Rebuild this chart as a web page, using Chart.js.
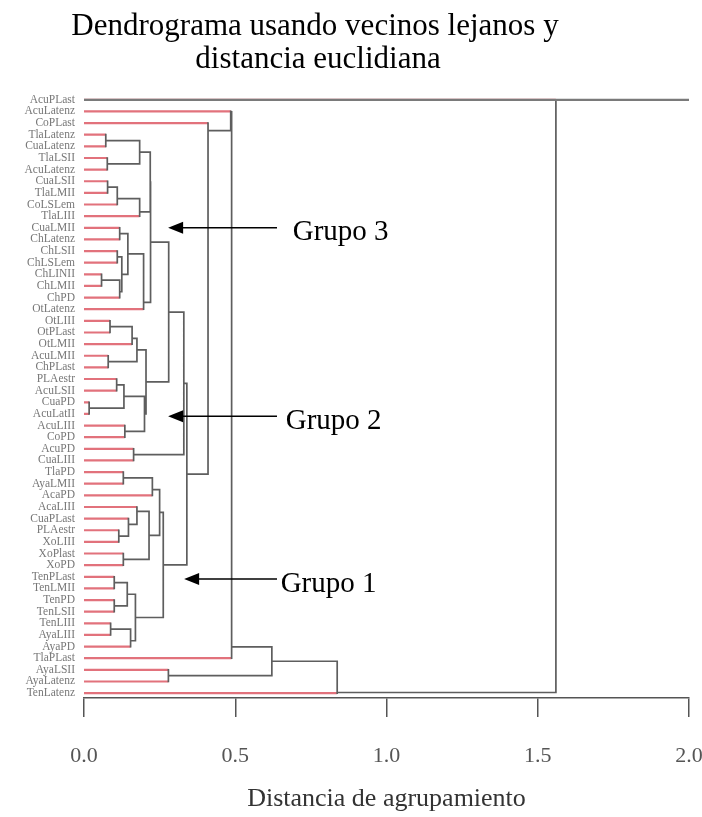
<!DOCTYPE html>
<html><head><meta charset="utf-8">
<script src="https://cdn.jsdelivr.net/npm/chart.js@4.4.0/dist/chart.umd.min.js"></script>
<style>html,body{margin:0;padding:0;background:#fff;} #wrap{width:702px;height:817px;}</style>
</head><body><div id="wrap"><canvas id="c" width="702" height="817"></canvas></div>
<script>
// ---- data ----
const leafLabels = ['AcuPLast','AcuLatenz','CoPLast','TlaLatenz','CuaLatenz','TlaLSII','AcuLatenz','CuaLSII','TlaLMII','CoLSLem',
  'TlaLIII','CuaLMII','ChLatenz','ChLSII','ChLSLem','ChLINII','ChLMII','ChPD','OtLatenz','OtLIII',
  'OtPLast','OtLMII','AcuLMII','ChPLast','PLAestr','AcuLSII','CuaPD','AcuLatII','AcuLIII','CoPD',
  'AcuPD','CuaLIII','TlaPD','AyaLMII','AcaPD','AcaLIII','CuaPLast','PLAestr','XoLIII','XoPlast',
  'XoPD','TenPLast','TenLMII','TenPD','TenLSII','TenLIII','AyaLIII','AyaPD','TlaPLast','AyaLSII',
  'AyaLatenz','TenLatenz'];
// merges: negative = leaf row, positive = earlier merge number (1-based)
const mergeLeft  = [-4,-6, 1,-8, 4, 5, 3,-12,-14,-16,10, 9, 8,13, 7,-20,16,-23,17,-25,-27,20,-29,22,19,15,-31,26,-33,29,-38,-37,-36,-40,33,30,-42,-44,37,-46,40,39,36,28,-3,-2,46,-50,47,49,-1];
const mergeRight = [-5,-7, 2,-9,-10,-11, 6,-13,-15,-17,-18,11,12,-19,14,-21,-22,-24,18,-26,-28,21,-30,23,24,25,-32,27,-34,-35,-39,31,32,-41,34,35,-43,-45,38,-47,-48,41,42,43,44,45,-49,-51,48,-52,50];
const mergeHeight= [0.072,0.077,0.184,0.078,0.110,0.184,0.219,0.118,0.110,0.058,0.118,0.125,0.145,0.197,0.220,
  0.086,0.159,0.080,0.175,0.108,0.017,0.132,0.135,0.200,0.205,0.280,0.164,0.330,
  0.130,0.226,0.115,0.147,0.175,0.130,0.215,0.250,0.100,0.100,0.143,0.088,0.154,0.170,0.262,
  0.340,0.410,0.485,0.488,0.279,0.621,0.837,1.560];
const xTicks = [0, 0.5, 1.0, 1.5, 2.0];
const titleLines = ['Dendrograma usando vecinos lejanos y', 'distancia euclidiana'];
const xTitle = 'Distancia de agrupamiento';
const groupLabels = ['Grupo 3', 'Grupo 2', 'Grupo 1'];

// ---- build segments from the merge table ----
const nodeY = [], nodeN = [];
function info(ref){
  if (ref < 0) return {y:-ref, n:1, h:0, leaf:true};
  return {y:nodeY[ref-1], n:nodeN[ref-1], h:mergeHeight[ref-1], leaf:false};
}
const redData = [], grayData = [];
function seg(arr, x1, y1, x2, y2){ arr.push({x:x1,y:y1},{x:x2,y:y2},{x:x2,y:null}); }
for (let i = 0; i < mergeHeight.length; i++){
  const a = info(mergeLeft[i]), b = info(mergeRight[i]), h = mergeHeight[i];
  const y = (a.leaf || b.leaf) ? (a.y*b.n + b.y*a.n)/(a.n+b.n) : (a.y+b.y)/2;
  nodeY.push(y); nodeN.push(a.n+b.n);
  [a,b].forEach(c => seg(c.leaf ? redData : grayData, c.h, c.y, h, c.y));
  seg(grayData, h, a.y, h, b.y);
}
const stemData = [{x:0,y:1},{x:xTicks[xTicks.length-1],y:1}];

// ---- annotations (in data units) ----
const groupArrows = [
  {label: groupLabels[0], tip: 0.278, tail: 0.638, row: 12.0, text: 0.690},
  {label: groupLabels[1], tip: 0.278, tail: 0.638, row: 28.2, text: 0.667},
  {label: groupLabels[2], tip: 0.331, tail: 0.638, row: 42.2, text: 0.650}
];

const SERIF = '"Liberation Serif", "Times New Roman", serif';

const titlePlugin = {
  id: 'titleLines',
  afterDraw(chart){
    const ctx = chart.ctx;
    ctx.save();
    ctx.fillStyle = '#000';
    ctx.font = '31px ' + SERIF;
    ctx.textAlign = 'center';
    ctx.textBaseline = 'middle';
    ctx.fillText(titleLines[0], 315, 27);
    ctx.fillText(titleLines[1], 318, 60);
    ctx.restore();
  }
};
const arrowPlugin = {
  id: 'groupArrows',
  afterDatasetsDraw(chart){
    const ctx = chart.ctx, xs = chart.scales.x, ys = chart.scales.y;
    ctx.save();
    groupArrows.forEach(g => {
      const tx = xs.getPixelForValue(g.tip), y = ys.getPixelForValue(g.row);
      const ex = xs.getPixelForValue(g.tail);
      ctx.strokeStyle = '#000'; ctx.lineWidth = 1.5;
      ctx.beginPath(); ctx.moveTo(tx + 10, y); ctx.lineTo(ex, y); ctx.stroke();
      ctx.fillStyle = '#000';
      ctx.beginPath(); ctx.moveTo(tx, y); ctx.lineTo(tx + 15, y - 6); ctx.lineTo(tx + 15, y + 6); ctx.closePath(); ctx.fill();
      ctx.font = '29px ' + SERIF;
      ctx.textAlign = 'left'; ctx.textBaseline = 'middle';
      ctx.fillText(g.label, xs.getPixelForValue(g.text), y + 5);
    });
    ctx.restore();
  }
};

new Chart(document.getElementById('c'), {
  type: 'scatter',
  data: { datasets: [
    { data: stemData, showLine: true, borderColor: '#7a7a7a', borderWidth: 2.2, pointRadius: 0, order: 1, clip: 4 },
    { data: grayData, showLine: true, spanGaps: false, borderColor: '#5e5e5e', borderWidth: 1.7, borderCapStyle: 'square', pointRadius: 0, order: 2 },
    { data: redData, showLine: true, spanGaps: false, borderColor: '#e2727c', borderWidth: 2.2, pointRadius: 0, order: 3 }
  ]},
  options: {
    responsive: false, animation: false, devicePixelRatio: 1,
    layout: { padding: { top: 94, right: 13, left: 0, bottom: 0 } },
    plugins: { legend: {display: false}, tooltip: {enabled: false}, title: {display: false} },
    scales: {
      x: { type: 'linear', position: 'bottom', min: xTicks[0], max: xTicks[xTicks.length-1],
        afterBuildTicks: s => { s.ticks = xTicks.map(v => ({value: v})); },
        ticks: { callback: v => Number(v).toFixed(1), font: {family: SERIF, size: 22}, color: '#555', padding: 26, maxRotation: 0, autoSkip: false },
        grid: { drawOnChartArea: false, drawTicks: true, tickLength: 19, color: '#555', lineWidth: 1.5 },
        border: { display: true, color: '#555', width: 1.5 },
        title: { display: true, text: xTitle, font: {family: SERIF, size: 26}, color: '#333', padding: {top: 4, bottom: 2} },
        afterFit: s => { s.height = 119; s.paddingLeft = 0; s.paddingRight = 0; }
      },
      y: { type: 'linear', reverse: true, min: 0.5, max: 52.42,
        afterBuildTicks: s => { s.ticks = leafLabels.map((_, i) => ({value: i + 1})); },
        ticks: { callback: v => leafLabels[v - 1] ?? '', font: {family: SERIF, size: 11.5}, color: '#777', padding: 9, autoSkip: false },
        grid: { display: false, drawTicks: false },
        border: { display: false },
        afterFit: s => { s.width = 84; s.paddingTop = 0; s.paddingBottom = 0; }
      }
    }
  },
  plugins: [titlePlugin, arrowPlugin]
});
</script></body></html>
